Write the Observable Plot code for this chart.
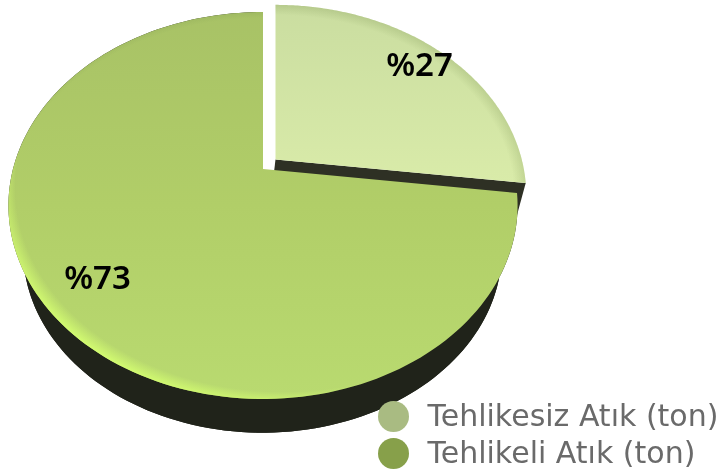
<!DOCTYPE html>
<html>
<head>
<meta charset="utf-8">
<script src="https://cdn.jsdelivr.net/npm/d3@7"></script>
<script src="https://cdn.jsdelivr.net/npm/@observablehq/plot@0.6"></script>
<style>
html,body{margin:0;padding:0;background:#fff}
svg{display:block;filter:blur(0.45px)}
</style>
</head>
<body>
<div id="chart"></div>
<script>
const categories = ["Tehlikesiz Atık (ton)", "Tehlikeli Atık (ton)"];
const shares = [27, 73];
const shareLabels = ["%27", "%73"];
const legendColors = ["#a9bb82", "#87a04a"];
const labelX = [419, 97];
const labelY = [65, 278];
const legendDotX = [393, 393];
const legendY = [416, 453];
const legendTextX = [427, 427];

// Perspective of the tilted disc
const tilt = 0.1886, rx = 250, ryAmp = 186.6;
const split = shares[0] / d3.sum(shares) * 2 * Math.PI;
const project = (a, o) => {
  const u = Math.sin(a), v = Math.cos(a), w = 1 + tilt * v, s = o.s ?? 1;
  return {x: o.x + s * rx * u / w, y: o.y - s * ryAmp * v / w};
};
const arcPts = (a0, a1, o) => d3.range(161).map(i => project(a0 + (a1 - a0) * i / 160, o));
const wedge = (a0, a1, o) => {
  const c = {x: o.x, y: o.y};
  return [c, ...arcPts(a0, a1, o), c];
};
const band = (a0, a1, o, b) => {
  const t = arcPts(a0, a1, o), l = arcPts(a0, a1, b).reverse();
  return [...t, ...l, t[0]];
};

const bigTop = {x: 262.5, y: 168.5};
const bigBase = {x: 262, y: 216, s: 0.94};
const smallTop = {x: 275, y: 159, s: 0.985};
const smallBase = {x: 266, y: 235, s: 0.94};

const bigFace = wedge(split, 2 * Math.PI, bigTop);
const bigBottom = wedge(split, 2 * Math.PI, bigBase);
const bigSide = band(split, 2 * Math.PI, bigTop, bigBase);
const smallFace = wedge(0, split, smallTop);
const tipT = project(split, smallTop), tipB = project(split, smallBase);
const smallWall = [{x: smallTop.x, y: smallTop.y}, tipT, tipB, {x: smallBase.x, y: smallBase.y}, {x: smallTop.x, y: smallTop.y}];

const area = (pts, fill, extra = {}) =>
  Plot.line(pts, {x: "x", y: "y", fill, stroke: "none", curve: "linear", ...extra});

const defs = () => {
  const g = d3.create("svg:defs");
  g.html(`
  <linearGradient id="bigBase" x1="0" y1="0" x2="0" y2="1">
    <stop offset="0" stop-color="#a8c266"/>
    <stop offset="0.5" stop-color="#b1ce68"/>
    <stop offset="1" stop-color="#b9da70"/>
  </linearGradient>
  <radialGradient id="bigBright" cx="0.54" cy="0.455" r="0.56">
    <stop offset="0.94" stop-color="#d2fb70" stop-opacity="0"/>
    <stop offset="1" stop-color="#d2fb70" stop-opacity="1"/>
  </radialGradient>
  <radialGradient id="bigDark" cx="0.5" cy="0.52" r="0.52">
    <stop offset="0.97" stop-color="#7f9a50" stop-opacity="0"/>
    <stop offset="1" stop-color="#7f9a50" stop-opacity="0.2"/>
  </radialGradient>
  <linearGradient id="smallBase" x1="0" y1="0" x2="0" y2="1">
    <stop offset="0" stop-color="#cadda0"/>
    <stop offset="1" stop-color="#d9eba9"/>
  </linearGradient>
  <radialGradient id="smallDark" gradientUnits="userSpaceOnUse" cx="0" cy="0" r="1"
    gradientTransform="translate(275 196) scale(254 193)">
    <stop offset="0.94" stop-color="#8aa060" stop-opacity="0"/>
    <stop offset="1" stop-color="#8aa060" stop-opacity="0.35"/>
  </radialGradient>`);
  return g.node();
};

const plot = Plot.plot({
  width: 721, height: 472,
  margin: 0,
  style: {background: "#fff"},
  x: {domain: [0, 721], range: [0, 721], axis: null},
  y: {domain: [0, 472], range: [0, 472], axis: null},
  marks: [
    defs,
    area(bigBottom, "#20231a"),
    area(bigSide, "#20231a"),
    area(smallWall, "#2e3024"),
    area(bigFace, "url(#bigBase)"),
    area(bigFace, "url(#bigBright)"),
    area(bigFace, "url(#bigDark)"),
    area(smallFace, "url(#smallBase)"),
    area(smallFace, "url(#smallDark)"),
    Plot.text(shareLabels, {
      x: (d, i) => labelX[i], y: (d, i) => labelY[i], text: d => d,
      fontSize: 33, fontWeight: 600, fill: "#000",
      fontFamily: "'Noto Sans', sans-serif", textAnchor: "middle"
    }),
    Plot.dot(categories, {
      x: (d, i) => legendDotX[i], y: (d, i) => legendY[i], r: 15.5,
      fill: (d, i) => legendColors[i], stroke: "none"
    }),
    Plot.text(categories, {
      x: (d, i) => legendTextX[i], y: (d, i) => legendY[i], text: d => d,
      fontSize: 30, fill: "#6a6a6a", textAnchor: "start",
      fontFamily: "'DejaVu Sans', sans-serif"
    })
  ]
});
document.getElementById("chart").append(plot);
</script>
</body>
</html>
